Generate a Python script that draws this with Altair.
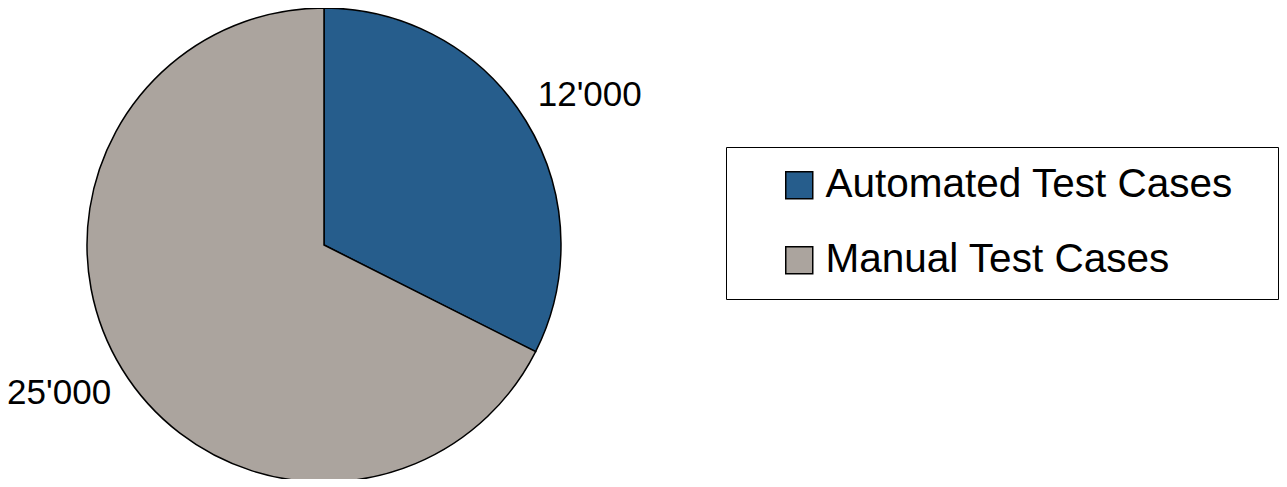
import altair as alt
import pandas as pd

categories = ["Automated Test Cases", "Manual Test Cases"]
values = [12000, 25000]
labels = ["12'000", "25'000"]
colors = ["#265D8C", "#ABA49E"]

df = pd.DataFrame({"category": categories, "value": values, "label": labels,
                   "order": [0, 1]})
total = sum(values)

FONT = "Liberation Sans"
CX, CY, R = 316, 237, 237

theta_scale = alt.Scale(domain=[0, total])

pie = alt.Chart(df).mark_arc(outerRadius=R, stroke="black", strokeWidth=1.5).encode(
    theta=alt.Theta("value:Q", stack=True, scale=theta_scale),
    order=alt.Order("order:Q"),
    x=alt.value(CX),
    y=alt.value(CY),
    color=alt.Color(
        "category:N",
        scale=alt.Scale(domain=categories, range=colors),
        legend=alt.Legend(
            title=None,
            orient="none",
            legendX=718,
            legendY=139,
            symbolType="square",
            symbolSize=729,
            symbolStrokeColor="black",
            symbolStrokeWidth=1.5,
            symbolOffset=35,
            labelFont=FONT,
            labelFontSize=40.5,
            labelColor="black",
            labelOffset=6,
            labelLimit=1000,
            labelExpr="datum.label + '\u2002\u2006\u200b'",
            rowPadding=34,
            padding=18,
            strokeColor="black",
            fillColor="white",
        ),
    ),
)

text_base = (
    alt.Chart(df)
    .transform_window(cum="sum(value)", sort=[alt.SortField("order")])
    .transform_calculate(mid="datum.cum - datum.value / 2")
)

text_enc = dict(
    theta=alt.Theta("mid:Q", stack=None, scale=theta_scale),
    x=alt.value(CX),
    y=alt.value(CY),
    text="label:N",
)

right_text = text_base.transform_filter(f"datum.mid < {total / 2}").mark_text(
    radius=R + 14, align="left", baseline="bottom", font=FONT, fontSize=35, color="black"
).encode(**text_enc)

left_text = text_base.transform_filter(f"datum.mid >= {total / 2}").mark_text(
    radius=R + 13, align="right", baseline="top", font=FONT, fontSize=35, color="black"
).encode(**text_enc)

chart = (pie + right_text + left_text).properties(
    width=1271, height=471, padding=0,
    autosize=alt.AutoSizeParams(type="none"),
).configure_view(stroke=None)

chart.save("out.html", embed_options={"renderer": "svg", "actions": False})
